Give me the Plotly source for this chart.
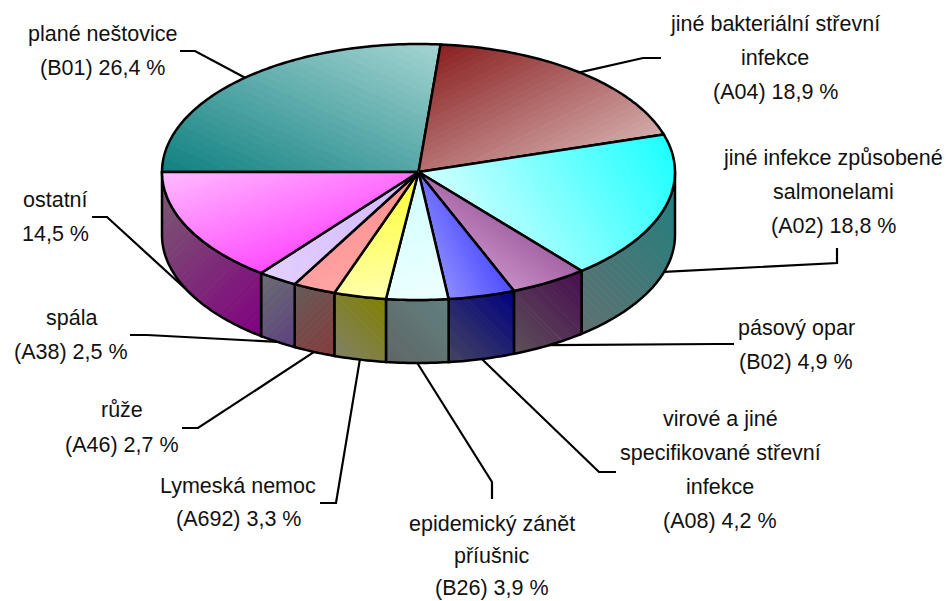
import math
import plotly.graph_objects as go

# ---- data ----
codes = ["B01", "A04", "A02", "B02", "A08", "B26", "A692", "A46", "A38", "ostatni"]
values = [26.4, 18.9, 18.8, 4.9, 4.2, 3.9, 3.3, 2.7, 2.5, 14.5]
label_lines = [
    ["plané neštovice", "(B01) 26,4 %"],
    ["jiné bakteriální střevní", "infekce", "(A04) 18,9 %"],
    ["jiné infekce způsobené", "salmonelami", "(A02) 18,8 %"],
    ["pásový opar", "(B02) 4,9 %"],
    ["virové a jiné", "specifikované střevní", "infekce", "(A08) 4,2 %"],
    ["epidemický zánět", "příušnic", "(B26) 3,9 %"],
    ["Lymeská nemoc", "(A692) 3,3 %"],
    ["růže", "(A46) 2,7 %"],
    ["spála", "(A38) 2,5 %"],
    ["ostatní", "14,5 %"],
]

# ---- layout / style (pixels) ----
W, H = 948, 601
CX, CY, RX, RY, DEPTH = 418.5, 172.0, 256.5, 128.0, 63.0
START_DEG = 270.0
label_x = [102, 775, 833, 796, 720, 492, 238, 122, 71, 55]
label_y0 = [34, 24, 158, 328, 419, 524, 486, 410, 318, 200]
label_dy = [34, 34, 34, 34, 34, 32, 33, 35, 34, 34]
leader_via = [
    [(180, 51), (195, 51)],
    [(661, 58), (643, 58)],
    [(837, 248), (837, 263)],
    [(734, 344), (716, 344)],
    [(616, 472), (599, 472)],
    [(492, 499), (492, 482)],
    [(320, 503), (336, 503)],
    [(182, 428), (198, 428)],
    [(130, 335), (147, 335)],
    [(92, 217), (107, 217)],
]
top_style = [
    ("#0f8080", "#a4d4d2", (0.45, -1)),
    ("#8a1f1f", "#d4acac", (0.5, 1)),
    ("#d2ffff", "#1effff", (1, -0.6)),
    ("#a462a4", "#c48cc4", (-0.7, 1)),
    ("#4c4cff", "#8c8cff", (-1, 0.5)),
    ("#d0ffff", "#ecffff", (0.1, 1)),
    ("#ffff30", "#ffffb0", (0.15, 1)),
    ("#ff9090", "#ffa4a4", (0.3, 1)),
    ("#e4d0ff", "#d0b8ff", (1, -0.2)),
    ("#ffbcff", "#ff4cff", (0.35, 1)),
]
side_style = [
    None,
    None,
    ("#607070", "#1f8080", (1, -1)),
    ("#5c5058", "#480c50", (1, -1)),
    ("#444460", "#000080", (1, -1)),
    ("#606464", "#608080", (1, -1)),
    ("#808068", "#808000", (1, -1)),
    ("#665a58", "#843c3c", (1, 1)),
    ("#6a6e70", "#5c4080", (1, 1)),
    ("#7a6070", "#800080", (1, 1)),
]
N_BANDS = 32
FONT = "Liberation Sans"
FONT_SIZE = 21.5


def pt(theta, dy=0.0):
    r = math.radians(theta)
    return (CX + RX * math.sin(r), CY - RY * math.cos(r) + dy)


def arc(t0, t1, dy=0.0, step=1.0):
    n = max(2, int(abs(t1 - t0) / step) + 1)
    return [pt(t0 + (t1 - t0) * i / (n - 1), dy) for i in range(n)]


def rgb(c):
    return tuple(int(c[i:i + 2], 16) for i in (1, 3, 5))


def clip(poly, d, lim, keep_above):
    out = []
    sgn = 1 if keep_above else -1
    m = len(poly)
    for i in range(m):
        p, q = poly[i], poly[(i + 1) % m]
        a = sgn * (p[0] * d[0] + p[1] * d[1] - lim)
        b = sgn * (q[0] * d[0] + q[1] * d[1] - lim)
        if a >= 0:
            out.append(p)
        if (a >= 0) != (b >= 0):
            s = a / (a - b)
            out.append((p[0] + (q[0] - p[0]) * s, p[1] + (q[1] - p[1]) * s))
    return out


fig = go.Figure()


def add_line(pts, width=2.5, closed=False):
    xs = [p[0] for p in pts]
    ys = [p[1] for p in pts]
    if closed:
        xs.append(xs[0])
        ys.append(ys[0])
    fig.add_trace(go.Scatter(x=xs, y=ys, mode="lines", hoverinfo="skip", showlegend=False,
                             line=dict(color="#000000", width=width, simplify=False)))


def add_face(poly, style):
    c0, c1, d = rgb(style[0]), rgb(style[1]), style[2]
    proj = [p[0] * d[0] + p[1] * d[1] for p in poly]
    lo, hi = min(proj), max(proj)
    for k in range(N_BANDS):
        a = lo + (hi - lo) * k / N_BANDS
        b = lo + (hi - lo) * (k + 1) / N_BANDS
        band = clip(clip(poly, d, a, True), d, b, False)
        if len(band) < 3:
            continue
        t = (k + 0.5) / N_BANDS
        col = "rgb(%d,%d,%d)" % tuple(round(c0[i] + (c1[i] - c0[i]) * t) for i in range(3))
        fig.add_trace(go.Scatter(
            x=[p[0] for p in band] + [band[0][0]], y=[p[1] for p in band] + [band[0][1]],
            mode="lines", fill="toself", fillcolor=col, hoverinfo="skip", showlegend=False,
            line=dict(color=col, width=1)))
    add_line(poly, closed=True)


# slice angles from the values
total = sum(values)
edges = [START_DEG]
for v in values:
    edges.append(edges[-1] + v / total * 360.0)

# leader lines go behind the pie
for i, via in enumerate(leader_via):
    mid = (edges[i] + edges[i + 1]) / 2
    lower = 90 < (mid % 360) < 270
    add_line(list(via) + [pt(mid, DEPTH if lower else 0.0)], width=2.2)

# side wall, visible part only (the front half runs from 450 to 630 degrees here)
for i, st in enumerate(side_style):
    if st is None:
        continue
    t0 = max(edges[i], 450.0)
    t1 = min(edges[i + 1], 630.0)
    add_face(arc(t0, t1) + arc(t1, t0, DEPTH), st)

# top faces
for i, st in enumerate(top_style):
    add_face([(CX, CY)] + arc(edges[i], edges[i + 1]), st)

annotations = []
for i, lines in enumerate(label_lines):
    for j, txt in enumerate(lines):
        annotations.append(dict(x=label_x[i], y=label_y0[i] + j * label_dy[i], text=txt,
                                xref="x", yref="y", showarrow=False, xanchor="center",
                                yanchor="middle",
                                font=dict(family=FONT, size=FONT_SIZE, color="#111111")))

fig.update_layout(
    width=W, height=H, margin=dict(l=0, r=0, t=0, b=0),
    paper_bgcolor="white", plot_bgcolor="white", showlegend=False,
    xaxis=dict(range=[0, W], visible=False, fixedrange=True),
    yaxis=dict(range=[H, 0], visible=False, fixedrange=True),
    annotations=annotations,
)
fig.write_html("out.html", config={"displayModeBar": False, "responsive": False},
               post_script="document.body.style.margin='0';document.body.style.overflow='hidden';")
